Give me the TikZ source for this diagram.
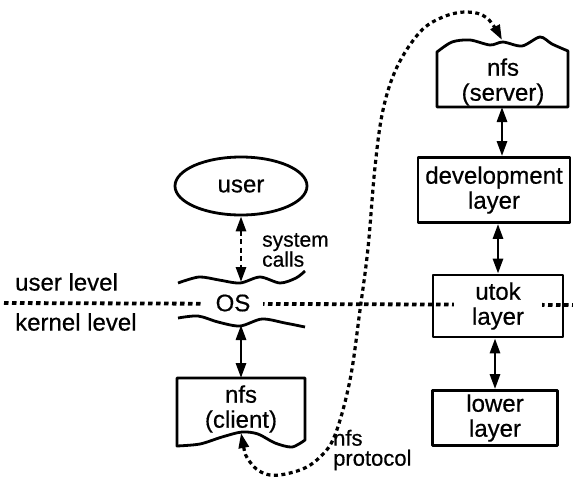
\documentclass[tikz,border=0pt]{standalone}
\usepackage{fontspec}
\setmainfont{Liberation Sans}[FakeBold=0.5]
\usetikzlibrary{arrows.meta,shapes.geometric}
\begin{document}
\begin{tikzpicture}[x=1pt,y=-1pt,
  every node/.style={font=\fontsize{24}{25}\selectfont, inner sep=0pt, align=center},
  shapeline/.style={line width=2.8pt, line join=round},
  box/.style={draw, shapeline, rectangle},
  tipshape/.style={},
  dbl/.style={line width=2.8pt, {Triangle[length=15pt,width=10pt]}-{Triangle[length=15pt,width=10pt]}},
  levelline/.style={line width=3.8pt, dash pattern=on 4.5pt off 3.5pt},
  dotcurve/.style={line width=3.2pt, dash pattern=on 4pt off 3.5pt},
  dashlink/.style={dash pattern=on 5pt off 3.5pt},
  smalltext/.style={font=\fontsize{21}{20}\selectfont, align=left, anchor=west},
  sidetext/.style={anchor=west}]
\useasboundingbox (0,0) rectangle (573,477);
\fill[white] (0,0) rectangle (573,477);

% level separation line
\coordinate (lvL) at (4,303);
\coordinate (lvR) at (573,305);
\draw[levelline] (lvL) -- (lvR);

\node[sidetext] (ul) at (15,282) {user level};
\node[sidetext] (kl) at (15,322) {kernel level};

% OS
\node[fill=white, inner xsep=13pt, inner ysep=1pt] (os) at (233,303) {OS};
\draw[shapeline] plot[smooth] coordinates {(178,283) (199,277) (219,280) (240,283) (260,277) (280,283) (296,278) (305,271)};
\draw[shapeline] plot[smooth] coordinates {(178,318) (198,316) (218,322) (240,326) (262,319) (285,323) (305,327)};
\coordinate (osT) at (241,282);
\coordinate (osB) at (241,325);

% user
\node[draw, ellipse, shapeline, minimum width=132, minimum height=58] (user) at (241,186) {user};
\node[smalltext] (sc) at (262,250) {system\\calls};
\draw[dbl, dashlink] (user.south) -- (osT);

% nfs client
\draw[shapeline] (305,378) -- (305,440) -- plot[smooth] coordinates {(305,440) (292,447) (275,443) (258,434) (242,432) (222,437) (200,444) (177,446)} -- (177,378) -- cycle;
\node (cl) at (241,409) {nfs\\(client)};
\coordinate (clT) at (241,378);
\coordinate (clB) at (241,433);
\draw[dbl] (osB) -- (clT);

% nfs server
\draw[shapeline] (437,107) -- plot[smooth] coordinates {(437,52) (452,42) (470,40) (490,45) (503,42) (522,46) (540,37) (552,44) (568,51)} -- (568,107) -- cycle;
\node (srv) at (503,82) {nfs\\(server)};
\coordinate (srvT) at (502,40);
\coordinate (srvB) at (502,107);

% right column
\node[box, minimum width=152, minimum height=65] (dev) at (494,190) {development\\layer};
\node[box, minimum width=130, minimum height=62] (utok) at (498,306) {};
\node[fill=white, minimum width=88, inner ysep=1pt] (utoktext) at (utok) {utok\\layer};
\node[box, minimum width=125, minimum height=55] (lower) at (495,418) {lower\\layer};

\draw[dbl] (srvB) -- (srvB |- dev.north);
\draw[dbl] (utok.north |- dev.south) -- (utok.north);
\draw[dbl] (utok.south -| lower.north) -- (lower.north);

% nfs protocol
\draw[dotcurve, {Triangle[length=15pt,width=10pt]}-{Triangle[length=15pt,width=10pt]}] plot[smooth, tension=0.6] coordinates {(clB) (250,462) (270,475) (300,470) (320,457) (335,435) (350,380) (360,310) (368,248) (375,167) (383,110) (397,67) (420,32) (443,17) (467,12) (487,18) (srvT)};
\node[font=\fontsize{22}{20}\selectfont, align=left, anchor=west] (np) at (333,450) {nfs\\protocol};
\end{tikzpicture}
\end{document}
